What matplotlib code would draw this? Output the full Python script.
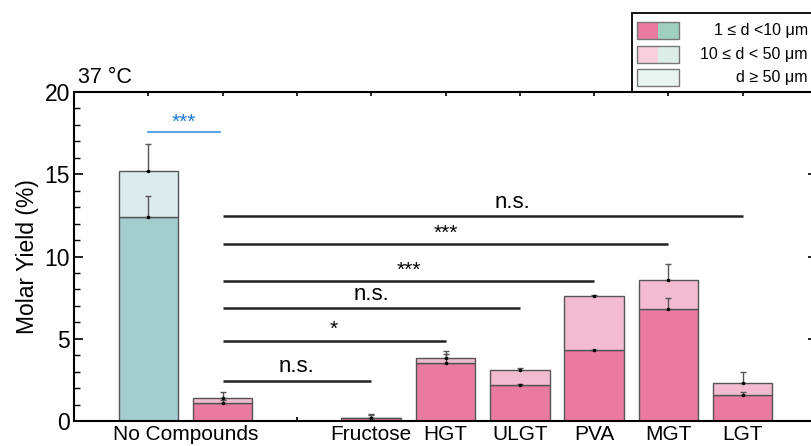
import matplotlib.pyplot as plt
from matplotlib.patches import Rectangle
from matplotlib.ticker import MultipleLocator

plt.rcParams['font.family'] = ['Liberation Sans', 'DejaVu Sans']

# data
positions = [0, 1, 3, 4, 5, 6, 7, 8]
small_part = [12.4, 1.1, 0.2, 3.55, 2.2, 4.3, 6.8, 1.6]     # 1 <= d < 10 um
total = [15.2, 1.4, 0.2, 3.8, 3.1, 7.6, 8.6, 2.3]           # incl. 10 <= d < 50 um
err_small = [1.25, 0.2, 0.15, 0.5, 0.06, 0.03, 0.65, 0.15]
err_total = [1.65, 0.35, 0.2, 0.45, 0.15, 0.03, 0.95, 0.7]
is_teal = [True, False, False, False, False, False, False, False]

cat_labels = ['Fructose', 'HGT', 'ULGT', 'PVA', 'MGT', 'LGT']
cat_pos = [3, 4, 5, 6, 7, 8]

# significance brackets from position 1
sig_ends = [3, 4, 5, 6, 7, 8]
sig_heights = [2.46, 4.88, 6.85, 8.51, 10.76, 12.46]
sig_text = ['n.s.', '*', 'n.s.', '***', '***', 'n.s.']

pink, pink_l = '#E97AA0', '#F2BBD0'
teal, teal_l = '#A3CDCE', '#DCECEC'

W, H = 811, 446
fig = plt.figure(figsize=(W / 100, H / 100), dpi=100)
ax = fig.add_axes([74 / W, 25 / H, (817 - 74) / W, (421 - 92) / H])

for p, s, t, tl in zip(positions, small_part, total, is_teal):
    c1, c2 = (teal, teal_l) if tl else (pink, pink_l)
    ax.bar(p, s, width=0.8, color=c1, edgecolor='#555555', linewidth=1, zorder=2)
    ax.bar(p, t - s, bottom=s, width=0.8, color=c2, edgecolor='#555555', linewidth=1, zorder=2)

zeros = [0] * len(positions)
ax.errorbar(positions, small_part, yerr=[zeros, err_small], fmt='none', ecolor='#555555',
            elinewidth=1, capsize=2.5, capthick=1, zorder=3)
ax.errorbar(positions, total, yerr=[zeros, err_total], fmt='none', ecolor='#555555',
            elinewidth=1, capsize=2.5, capthick=1, zorder=3)
ax.plot(positions, small_part, 'k.', ms=3, zorder=4)
ax.plot(positions, total, 'k.', ms=3, zorder=4)

for e, h, txt in zip(sig_ends, sig_heights, sig_text):
    ax.plot([1, e], [h, h], color='#222222', lw=1.8, solid_capstyle='butt', zorder=3)
    xm = (1 + e) / 2 if e != 8 else 4.9
    if txt == 'n.s.':
        ax.text(xm, h + 0.2, txt, ha='center', va='bottom', fontsize=16)
    else:
        ax.text(xm, h + 0.1, txt, ha='center', va='bottom', fontsize=15)

ax.plot([0, 0.97], [17.55, 17.55], color='#4A9BE0', lw=1.3)
ax.text(0.48, 17.6, '***', ha='center', va='bottom', fontsize=15, color='#1C7BD6')

ax.set_xlim(-1, 9)
ax.set_ylim(0, 20)
ax.set_xticks(range(0, 9))
ax.set_xticklabels([])
ax.yaxis.set_major_locator(MultipleLocator(5))
ax.yaxis.set_minor_locator(MultipleLocator(1))
ax.tick_params(axis='y', which='major', direction='in', length=6.5, width=1.2,
               labelsize=16.5, right=True, pad=3)
ax.tick_params(axis='y', which='minor', direction='in', length=4, width=1, right=True)
ax.tick_params(axis='x', which='major', direction='in', length=3, width=1.2, top=True)
for sp in ax.spines.values():
    sp.set_linewidth(1.5)

xt = ax.get_xaxis_transform()
lab_y = -(440 - 421) / (421 - 92)
ax.text(0.5, lab_y, 'No Compounds', transform=xt, ha='center', va='baseline', fontsize=15)
for p, lab in zip(cat_pos, cat_labels):
    ax.text(p, lab_y, lab, transform=xt, ha='center', va='baseline', fontsize=15)

ax.set_ylabel('Molar Yield (%)', fontsize=16.5, labelpad=4)
ax.text(0.005, 1.012, '37 °C', transform=ax.transAxes, ha='left', va='bottom', fontsize=15.5)

# legend drawn by hand in pixel coordinates
def fx(x):
    return x / W


def fy(y):
    return 1 - y / H


fig.add_artist(Rectangle((fx(632), fy(92)), fx(830) - fx(632), fy(13) - fy(92),
                         transform=fig.transFigure, fill=False, edgecolor='black', lw=1.3))
rows = [(22, 39, pink, '#9ECFBF', '1 ≤ d <10 μm'),
        (46, 63, '#F8CFDD', '#DDEEE8', '10 ≤ d < 50 μm'),
        (69, 86, '#EAF4F0', '#EAF4F0', 'd ≥ 50 μm')]
for y0, y1, ca, cb, txt in rows:
    fig.add_artist(Rectangle((fx(637), fy(y1)), fx(658) - fx(637), fy(y0) - fy(y1),
                             transform=fig.transFigure, color=ca, lw=0))
    fig.add_artist(Rectangle((fx(658), fy(y1)), fx(679) - fx(658), fy(y0) - fy(y1),
                             transform=fig.transFigure, color=cb, lw=0))
    fig.add_artist(Rectangle((fx(637), fy(y1)), fx(679) - fx(637), fy(y0) - fy(y1),
                             transform=fig.transFigure, fill=False, edgecolor='#777777', lw=1))
    fig.text(fx(808), fy((y0 + y1) / 2), txt, ha='right', va='center', fontsize=11.5)

fig.savefig('out.png', dpi=100)
